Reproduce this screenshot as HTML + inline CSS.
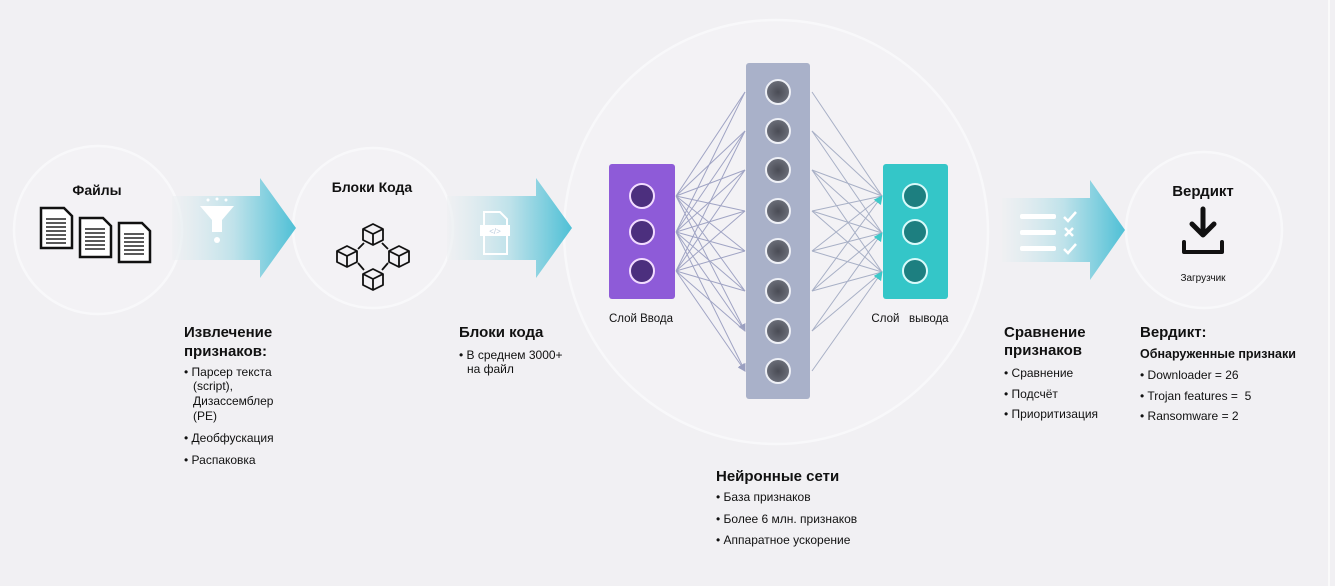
<!DOCTYPE html>
<html><head><meta charset="utf-8"><style>
html,body{margin:0;padding:0;background:#f1f0f3;}
svg{display:block;font-family:"Liberation Sans",Arial,sans-serif;}
</style></head><body>
<svg width="1335" height="586" viewBox="0 0 1335 586" xmlns="http://www.w3.org/2000/svg">
<defs>
<linearGradient id="ag" x1="0" x2="1" y1="0" y2="0">
<stop offset="0" stop-color="#eef0f2" stop-opacity="0.6"/>
<stop offset="0.5" stop-color="#bfe2ea"/>
<stop offset="1" stop-color="#4fc0d6"/>
</linearGradient>
<radialGradient id="ng" cx="0.5" cy="0.5" r="0.5">
<stop offset="0" stop-color="#4a4c55"/><stop offset="1" stop-color="#6c6f7a"/>
</radialGradient>
<marker id="ar" markerWidth="8" markerHeight="8" refX="7" refY="4" orient="auto" markerUnits="userSpaceOnUse">
<path d="M0,0 L8,4 L0,8 z" fill="#9a9fc0"/></marker>
<marker id="at" markerWidth="9" markerHeight="9" refX="8" refY="4.5" orient="auto" markerUnits="userSpaceOnUse">
<path d="M0,0 L9,4.5 L0,9 z" fill="#3ec9c9"/></marker>
<g id="cube"><path d="M0,-10 L10,-5 L10,6 L0,11 L-10,6 L-10,-5 z M-10,-5 L0,0 L10,-5 M0,0 L0,11"/></g>
</defs>
<rect width="1335" height="586" fill="#f1f0f3"/>
<line x1="1329" y1="0" x2="1329" y2="586" stroke="#fafafa" stroke-width="2"/>
<g fill="#f3f2f5" stroke="#f8f8fa" stroke-width="2.5">
<circle cx="98" cy="230" r="84"/>
<circle cx="373" cy="228" r="80"/>
<circle cx="776" cy="232" r="212"/>
<circle cx="1204" cy="230" r="78"/>
</g>
<g fill="url(#ag)">
<path d="M172,196 L260,196 L260,178 L296,228 L260,278 L260,260 L172,260 z"/>
<path d="M447,196 L536,196 L536,178 L572,228 L536,278 L536,260 L447,260 z"/>
<path d="M1002,198 L1090,198 L1090,180 L1125,230 L1090,280 L1090,262 L1002,262 z"/>
</g>
<g fill="#fff">
<path d="M200,206 L234,206 L222,220 L222,232 L212,232 L212,220 z"/>
<circle cx="217" cy="240" r="3"/>
<circle cx="208" cy="200" r="1.5"/><circle cx="217" cy="199" r="1.5"/><circle cx="226" cy="200" r="1.5"/>
</g>
<g fill="none" stroke="#fff" stroke-width="2">
<path d="M484,212 L500,212 L507,219 L507,254 L484,254 z"/>
</g>
<rect x="480" y="225" width="30" height="11" fill="#fff"/>
<text x="495" y="234" font-size="8" fill="#bcd" text-anchor="middle">&lt;/&gt;</text>
<g fill="#fff">
<rect x="1020" y="214" width="36" height="5" rx="2"/>
<rect x="1020" y="230" width="36" height="5" rx="2"/>
<rect x="1020" y="246" width="36" height="5" rx="2"/>
</g>
<g fill="none" stroke="#fff" stroke-width="2.5">
<path d="M1064,217 l4,4 l8,-9"/><path d="M1065,228 l8,8 M1073,228 l-8,8"/><path d="M1064,249 l4,4 l8,-9"/>
</g>
<g fill="#fff" stroke="#111" stroke-width="2.5">
<path d="M41,208 L64,208 L72,216 L72,248 L41,248 z"/>
<path d="M80,218 L103,218 L111,226 L111,257 L80,257 z"/>
<path d="M119,223 L142,223 L150,231 L150,262 L119,262 z"/>
</g>
<g stroke="#222" stroke-width="1.4">
<path d="M46,219h20M46,223h20M46,227h20M46,231h20M46,235h20M46,239h20M46,243h20"/>
<path d="M85,229h20M85,233h20M85,237h20M85,241h20M85,245h20M85,249h20"/>
<path d="M124,234h20M124,238h20M124,242h20M124,246h20M124,250h20M124,254h20"/>
</g>
<g fill="none" stroke="#111" stroke-width="1.8" stroke-linejoin="round">
<use href="#cube" x="373" y="234"/>
<use href="#cube" x="347" y="256"/>
<use href="#cube" x="399" y="256"/>
<use href="#cube" x="373" y="279"/>
<path d="M358,249 L364,243 M388,249 L382,243 M358,263 L364,270 M388,263 L382,270"/>
</g>
<g fill="none" stroke="#111" stroke-width="5" stroke-linecap="round" stroke-linejoin="round">
<path d="M1203,209 L1203,234 M1192,224 L1203,235 L1214,224"/>
<path d="M1184,242 L1184,252 L1222,252 L1222,242" stroke-width="4"/>
</g>
<g stroke="#a0a4c4" stroke-width="1" marker-end="url(#ar)">
<path d="M676,196L745,92M676,196L745,131M676,196L745,170M676,196L745,211M676,196L745,251M676,196L745,291M676,196L745,331"/>
<path d="M676,232L745,92M676,232L745,131M676,232L745,170M676,232L745,211M676,232L745,251M676,232L745,291M676,232L745,331M676,232L745,371"/>
<path d="M676,271L745,131M676,271L745,170M676,271L745,211M676,271L745,251M676,271L745,291M676,271L745,331M676,271L745,371"/>
</g>
<g stroke="#a8b0c6" stroke-width="1" marker-end="url(#at)">
<path d="M812,92L882,196M812,131L882,196M812,170L882,196M812,211L882,196M812,251L882,196M812,291L882,196"/>
<path d="M812,131L882,233M812,170L882,233M812,211L882,233M812,251L882,233M812,291L882,233M812,331L882,233"/>
<path d="M812,170L882,272M812,211L882,272M812,251L882,272M812,291L882,272M812,331L882,272M812,371L882,272"/>
</g>
<rect x="609" y="164" width="66" height="135" rx="3" fill="#8e5bd8"/>
<rect x="746" y="63" width="64" height="336" rx="3" fill="#a9b1c9"/>
<rect x="883" y="164" width="65" height="135" rx="3" fill="#34c6c8"/>
<g stroke="#f2dcff" stroke-width="2" fill="#4c2f7e">
<circle cx="642" cy="196" r="12"/><circle cx="642" cy="232" r="12"/><circle cx="642" cy="271" r="12"/>
</g>
<g stroke="#eef0f6" stroke-width="2" fill="url(#ng)">
<circle cx="778" cy="92" r="12"/><circle cx="778" cy="131" r="12"/><circle cx="778" cy="170" r="12"/><circle cx="778" cy="211" r="12"/>
<circle cx="778" cy="251" r="12"/><circle cx="778" cy="291" r="12"/><circle cx="778" cy="331" r="12"/><circle cx="778" cy="371" r="12"/>
</g>
<g stroke="#d8fafa" stroke-width="2" fill="#1d7f80">
<circle cx="915" cy="196" r="12"/><circle cx="915" cy="232" r="12"/><circle cx="915" cy="271" r="12"/>
</g>
<g fill="#111">
<text x="97" y="195" font-size="14" font-weight="bold" text-anchor="middle">Файлы</text>
<text x="372" y="192" font-size="14" font-weight="bold" text-anchor="middle">Блоки Кода</text>
<text x="1203" y="196" font-size="15" font-weight="bold" text-anchor="middle">Вердикт</text>
<text x="1203" y="281" font-size="10" text-anchor="middle">Загрузчик</text>
<text x="641" y="322" font-size="11.5" text-anchor="middle">Слой Ввода</text>
<text x="910" y="322" font-size="11.5" text-anchor="middle">Слой&#160;&#160;&#160;вывода</text>
<text x="184" y="337" font-size="15" font-weight="bold">Извлечение</text>
<text x="184" y="356" font-size="15" font-weight="bold">признаков:</text>
<g font-size="12">
<text x="184" y="376">• Парсер текста</text>
<text x="193" y="390">(script),</text>
<text x="193" y="405">Дизассемблер</text>
<text x="193" y="420">(PE)</text>
<text x="184" y="442">• Деобфускация</text>
<text x="184" y="464">• Распаковка</text>
</g>
<text x="459" y="337" font-size="15" font-weight="bold">Блоки кода</text>
<text x="459" y="359" font-size="12">• В среднем 3000+</text>
<text x="467" y="373" font-size="12">на файл</text>
<text x="716" y="481" font-size="15" font-weight="bold">Нейронные сети</text>
<g font-size="12">
<text x="716" y="501">• База признаков</text>
<text x="716" y="523">• Более 6 млн. признаков</text>
<text x="716" y="544">• Аппаратное ускорение</text>
</g>
<text x="1004" y="337" font-size="15" font-weight="bold">Сравнение</text>
<text x="1004" y="355" font-size="15" font-weight="bold">признаков</text>
<g font-size="12">
<text x="1004" y="377">• Сравнение</text>
<text x="1004" y="398">• Подсчёт</text>
<text x="1004" y="418">• Приоритизация</text>
</g>
<text x="1140" y="337" font-size="15" font-weight="bold">Вердикт:</text>
<text x="1140" y="358" font-size="12.5" font-weight="bold">Обнаруженные признаки</text>
<g font-size="12">
<text x="1140" y="379">• Downloader = 26</text>
<text x="1140" y="400">• Trojan features =&#160; 5</text>
<text x="1140" y="420">• Ransomware = 2</text>
</g>
</g>
</svg>
</body></html>
